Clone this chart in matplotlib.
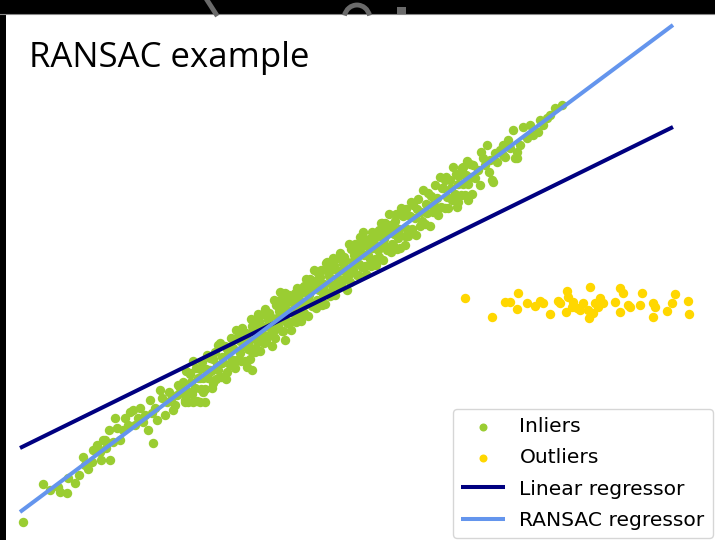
import numpy as np
import matplotlib
matplotlib.use("Agg")
import matplotlib.pyplot as plt
from matplotlib.patches import Rectangle, Arc
from matplotlib.lines import Line2D

# inlier points (x, y)
inlier_x = [
    # lower tail
    -3.22, -3.02, -2.95, -2.87, -2.85, -2.78, -2.77, -2.70, -2.62, -2.57, -2.53, -2.48, -2.45, -2.39,
    -2.35, -2.40, -2.30, -2.15, -2.22, -2.25, -2.48, -2.32, -1.92, -2.07, -2.02, -1.93, -1.88, -1.85,
    -1.78, -1.73, -1.72, -1.67, -1.62, -1.55, -1.52, -1.45, -1.40, -1.42, -1.35, -1.32, -1.27, -1.23,
    -1.18, -1.12, -1.05, -0.98, -0.95, -1.08, -0.88, -2.10, -1.97, -1.80, -1.70, -1.60,
    -2.42, -2.36, -2.28, -2.20, -2.17, -2.12, -2.05, -2.00, -1.95, -1.90, -1.83, -1.76, -1.68, -1.65,
    -2.60, -2.66, -2.52, -2.44,
    -0.93, -0.60, -1.45, -1.55, -1.03, -0.65, -0.50, -0.27, -0.18,
    # main band
    -1.62, -1.60, -1.59, -1.58, -1.57, -1.55, -1.54, -1.53, -1.52, -1.50, -1.49, -1.48,
    -1.47, -1.45, -1.44, -1.43, -1.42, -1.40, -1.39, -1.38, -1.37, -1.35, -1.34, -1.33,
    -1.32, -1.30, -1.29, -1.28, -1.27, -1.25, -1.24, -1.23, -1.22, -1.20, -1.19, -1.18,
    -1.17, -1.15, -1.14, -1.13, -1.12, -1.10, -1.09, -1.08, -1.07, -1.05, -1.04, -1.03,
    -1.02, -1.00, -0.99, -0.98,
    -0.97, -0.94, -0.96, -0.93, -0.95, -0.965, -0.92, -0.89, -0.91, -0.88, -0.90, -0.915,
    -0.87, -0.84, -0.86, -0.83, -0.85, -0.865, -0.82, -0.79, -0.81, -0.78, -0.80, -0.815,
    -0.77, -0.74, -0.76, -0.73, -0.75, -0.765, -0.72, -0.69, -0.71, -0.68, -0.70, -0.715,
    -0.67, -0.64, -0.66, -0.63, -0.65, -0.665, -0.62, -0.59, -0.61, -0.58, -0.60, -0.615,
    -0.57, -0.54, -0.56, -0.53, -0.55, -0.565, -0.52, -0.49, -0.51, -0.48, -0.50, -0.515,
    -0.47, -0.44, -0.46, -0.43, -0.45, -0.465, -0.42, -0.39, -0.41, -0.38, -0.40, -0.415,
    -0.37, -0.34, -0.36, -0.33, -0.35, -0.365, -0.32, -0.29, -0.31, -0.28, -0.30, -0.315,
    -0.27, -0.24, -0.26, -0.23, -0.25, -0.265, -0.22, -0.19, -0.21, -0.18, -0.20, -0.215,
    -0.17, -0.14, -0.16, -0.13, -0.15, -0.165, -0.12, -0.09, -0.11, -0.08, -0.10, -0.115,
    -0.07, -0.04, -0.06, -0.03, -0.05, -0.065, -0.02, 0.01, -0.01, 0.02, 0.00, -0.015,
    0.03, 0.06, 0.04, 0.07, 0.05, 0.035, 0.08, 0.11, 0.09, 0.12, 0.10, 0.085,
    0.13, 0.16, 0.14, 0.17, 0.15, 0.135, 0.18, 0.21, 0.19, 0.22, 0.20, 0.185,
    0.23, 0.26, 0.24, 0.27, 0.25, 0.235, 0.28, 0.31, 0.29, 0.32, 0.30, 0.285,
    0.33, 0.36, 0.34, 0.37, 0.35, 0.335, 0.38, 0.41, 0.39, 0.42, 0.40, 0.385,
    0.43, 0.46, 0.44, 0.47, 0.45, 0.435, 0.48, 0.51, 0.49, 0.52, 0.50, 0.485,
    0.53, 0.56, 0.54, 0.57, 0.55, 0.535,
    0.58, 0.60, 0.61, 0.62, 0.63, 0.65, 0.66, 0.67, 0.68, 0.70, 0.71, 0.72,
    0.73, 0.75, 0.76, 0.77, 0.78, 0.80, 0.81, 0.82, 0.83, 0.85, 0.86, 0.87,
    0.88, 0.90, 0.91, 0.92, 0.93, 0.95, 0.96, 0.97, 0.98, 1.00, 1.01, 1.02,
    1.03, 1.05, 1.06, 1.07, 1.08, 1.10, 1.11, 1.12, 1.13, 1.15, 1.16, 1.17,
    1.18, 1.20, 1.21, 1.22, 1.23, 1.25, 1.26, 1.27,
    # upper tail
    0.37, 0.18, 0.60, 1.13, 1.18, 1.48, 1.70, 1.58,
    1.00, 1.17, 1.23, 1.28, 1.38, 1.42, 1.47, 1.50, 1.58, 1.60, 1.68, 1.72, 1.72,
    1.78, 1.82, 1.93, 2.02, 2.10, 2.17, 1.33, 1.45, 1.55, 1.63, 1.85, 1.98, 1.35, 1.12,
    1.30, 1.40, 1.52, 1.65, 1.75, 1.88, 1.95, 2.05, 1.36, 1.44,
]
inlier_y = [
    # lower tail
    -232, -194, -200, -197, -202, -203, -188, -193, -167, -179, -172, -155, -162, -158,
    -170, -150, -128, -122, -140, -150, -157, -152, -153, -128, -132, -123, -130, -100,
    -112, -107, -120, -95, -103, -83, -112, -88, -112, -102, -80, -93, -55, -73,
    -82, -70, -63, -77, -60, -48, -47, -135, -140, -125, -115, -110,
    -150, -140, -138, -128, -135, -120, -118, -125, -110, -118, -108, -102, -105, -98,
    -175, -185, -160, -170,
    -80, -50, -112, -103, -38, -2, -3, 17, 28,
    # main band
    -92, -112, -81, -101, -112, -84, -92, -104, -71, -98, -78, -111,
    -88, -79, -99, -72, -88, -99, -79, -65, -88, -68, -81, -98,
    -69, -62, -89, -75, -80, -53, -87, -67, -72, -56, -89, -59,
    -64, -75, -48, -70, -58, -78, -40, -70, -47, -51, -71, -40,
    -56, -71, -43, -51,
    -59, -29, -56, -36, -69, -50, -38, -58, -31, -51, -62, -42,
    -24, -51, -31, -44, -61, -35, -24, -51, -37, -46, -19, -53,
    -30, -39, -23, -56, -26, -35, -42, -15, -37, -28, -48, -10,
    -36, -17, -21, -41, -10, -30, -41, -13, -21, -33, -3, -30,
    -7, -40, -21, -12, -32, -5, -21, -32, -12, 2, -25, -5,
    -14, -31, -5, 2, -25, -11, -16, 11, -23, -3, -12, 4,
    -26, 4, -5, -16, 11, -11, 2, -18, 20, -10, 9, 5,
    -11, 20, 0, -15, 13, 5, -4, 27, 0, 20, -14, 6,
    18, -2, 25, 5, -6, 14, 32, 5, 25, 12, -5, 21,
    32, 5, 19, 10, 37, 3, 26, 17, 33, 0, 30, 21,
    14, 41, 19, 28, 8, 46, 20, 39, 35, 15, 46, 26,
    15, 43, 35, 23, 53, 26, 49, 16, 35, 44, 24, 51,
    35, 24, 44, 58, 31, 51, 42, 25, 51, 58, 31, 45,
    40, 67, 33, 53, 44, 60, 30, 60, 51, 40, 67, 45,
    58, 38, 76, 46, 65, 61, 45, 76, 56, 41, 69, 61,
    52, 82, 55, 75, 42, 61,
    74, 54, 81, 61, 54, 74, 88, 61, 85, 72, 55, 81,
    91, 64, 78, 69, 100, 66, 86, 77, 97, 64, 94, 85,
    78, 105, 83, 92, 75, 113, 83, 102, 102, 82, 113, 93,
    82, 110, 102, 90, 123, 96, 116, 83, 106, 115, 95, 122,
    106, 95, 115, 129, 106, 126, 113, 96,
    # upper tail
    67, 58, 45, 88, 123, 108, 132, 135,
    110, 122, 90, 125, 132, 145, 110, 137, 145, 133, 160, 132, 138,
    163, 152, 158, 172, 182, 185, 120, 130, 140, 150, 165, 165, 105, 115,
    112, 125, 128, 142, 145, 155, 170, 175, 138, 118,
]

# outlier points (x, y)
outlier_x = [
    1.20, 1.47, 1.60, 1.65, 1.73, 1.72, 1.82, 1.90, 1.95, 1.98, 2.05, 2.13, 2.22, 2.23, 2.21,
    2.28, 2.32, 2.35, 2.45, 2.43, 2.44, 2.48, 2.53, 2.55, 2.58, 2.70, 2.75, 2.78, 2.75, 2.83,
    2.85, 2.95, 2.97, 3.08, 3.08, 3.10, 3.22, 3.27, 3.30, 3.43, 3.44, 2.38, 2.50, 2.27, 2.15,
]
outlier_y = [
    -8, -27, -12, -12, -3, -19, -13, -16, -11, -13, -24, -11, -1, -7, -22,
    -12, -18, -20, 3, -20, -28, -23, -17, -8, -13, -12, 2, -3, -22, -15,
    -17, -15, -3, -13, -27, -17, -21, -13, -4, -11, -24, -13, -13, -17, -13,
]

# fitted lines over the x range
line_x = [-3.25, 3.28]
linear_y = [-158, 163]
ransac_y = [-222, 265]

fig = plt.figure(figsize=(7.15, 5.4), dpi=100, facecolor="white")
ax = fig.add_axes([0, 0, 1, 1])
ax.set_xlim(-3.45, 3.70)
ax.set_ylim(-250, 290)
ax.axis("off")

lw = 2.9
ax.scatter(inlier_x, inlier_y, color="yellowgreen", marker="o", s=46,
           linewidths=0, label="Inliers")
ax.scatter(outlier_x, outlier_y, color="gold", marker="o", s=46,
           linewidths=0, label="Outliers")
ax.plot(line_x, linear_y, color="navy", linewidth=lw, label="Linear regressor",
        solid_capstyle="butt")
ax.plot(line_x, ransac_y, color="cornflowerblue", linewidth=lw,
        label="RANSAC regressor", solid_capstyle="butt")

ax.legend(loc="lower right", bbox_to_anchor=(0.997, 0.004), borderaxespad=0,
          fontsize=14.6, scatterpoints=1, markerscale=0.85, handlelength=2.2,
          handletextpad=0.7, labelspacing=0.6)

# slide title
fig.text(0.041, 1 - 67 / 540, "RANSAC example", fontsize=25, family="Open Sans",
         va="baseline", ha="left", color="black")

# dark slide border on the left and top
fig.patches.append(Rectangle((0, 0), 6 / 715, 1, transform=fig.transFigure,
                             facecolor="black", edgecolor="none", zorder=10))
fig.patches.append(Rectangle((0, 1 - 14 / 540), 1, 14 / 540,
                             transform=fig.transFigure, facecolor="black",
                             edgecolor="none", zorder=10))
fig.lines.append(Line2D([0, 1], [1 - 14 / 540, 1 - 14 / 540],
                        transform=fig.transFigure, color="#888888",
                        linewidth=0.8, zorder=11))
# faint grey strokes in the top band
fig.lines.append(Line2D([207 / 715, 216 / 715], [1.0, 1 - 14 / 540],
                        transform=fig.transFigure, color="#6a6a6a",
                        linewidth=3.5, zorder=11))
fig.patches.append(Arc((357 / 715, 1 - 19 / 540), 26 / 715, 28 / 540,
                       theta1=20, theta2=160, transform=fig.transFigure,
                       color="#6a6a6a", linewidth=3.5, zorder=11))
fig.patches.append(Rectangle((397 / 715, 1 - 14 / 540), 9 / 715, 7 / 540,
                             transform=fig.transFigure, facecolor="#6a6a6a",
                             edgecolor="none", zorder=11))

fig.savefig("out.png", dpi=100, facecolor="white")
